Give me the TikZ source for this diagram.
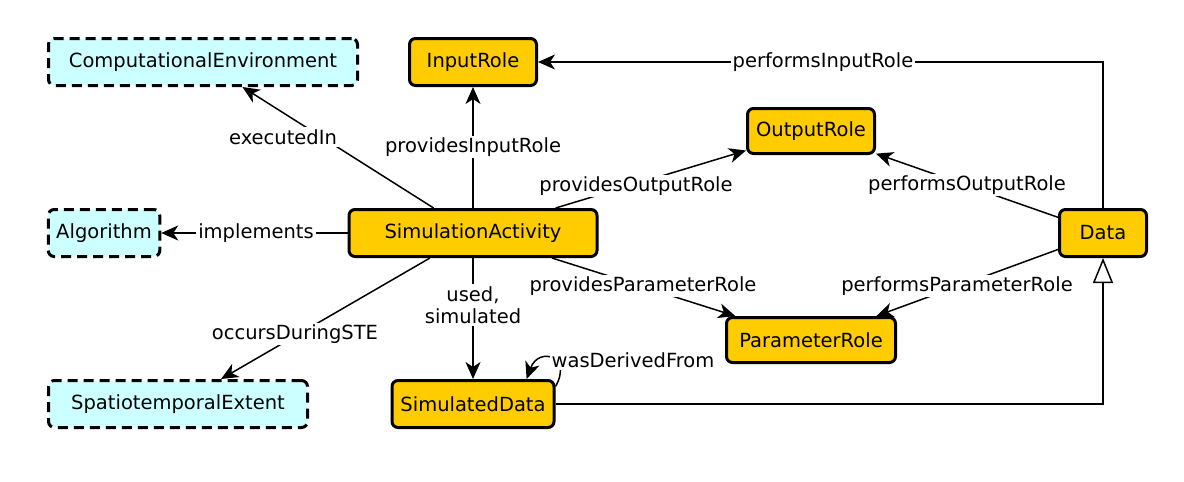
\documentclass[tikz,border=0pt]{standalone}
\usepackage{fontspec}
\setmainfont{DejaVu Sans}
\usetikzlibrary{arrows.meta}
\definecolor{rolegold}{RGB}{255,204,0}
\definecolor{extcyan}{RGB}{204,255,255}
\tikzset{
    cls/.style={draw, line width=3pt, rounded corners=6pt, fill=rolegold,
        minimum height=47pt, inner xsep=8pt, font=\fontsize{19.5}{22}\selectfont},
    ext/.style={cls, fill=extcyan, dash pattern=on 10pt off 6pt},
    rel/.style={line width=1.5pt, -{Stealth[length=17pt, width=15pt, inset=5pt]}},
    lbl/.style={fill=white, inner sep=2pt, align=center, font=\fontsize{19.5}{22}\selectfont},
}
\begin{document}
\begin{tikzpicture}[x=1pt, y=-1pt]
    \useasboundingbox (0,0) rectangle (1184,482);

    % Các lớp
    \node[ext, minimum width=309pt] (env) at (203,62) {ComputationalEnvironment};
    \node[cls, minimum width=127pt] (input) at (473,62) {InputRole};
    \node[cls, minimum width=127pt, minimum height=45pt] (output) at (811,131) {OutputRole};
    \node[ext, minimum width=111pt] (algo) at (104,233) {Algorithm};
    \node[cls, minimum width=248pt] (act) at (473,233) {SimulationActivity};
    \node[cls, minimum width=87pt] (data) at (1103,233) {Data};
    \node[cls, minimum width=169pt, minimum height=45pt] (param) at (811,340) {ParameterRole};
    \node[ext, minimum width=259pt] (ste) at (178,404) {SpatiotemporalExtent};
    \node[cls, minimum width=162pt] (simdata) at (473,404) {SimulatedData};

    % Quan hệ của SimulationActivity
    \draw[rel] (act) -- (env);
    \draw[rel] (act) -- (input);
    \draw[rel] (act) -- (output);
    \draw[rel] (act) -- (algo);
    \draw[rel] (act) -- (ste);
    \draw[rel] (act) -- (simdata);
    \draw[rel] (act) -- (param);

    % Quan hệ của Data
    \draw[rel] (data.north) |- (input);
    \draw[rel] (data) -- (output);
    \draw[rel] (data) -- (param);
    \draw[rel] (simdata.12) to[out=60, in=70, looseness=3] (simdata.25);

    % Kế thừa (tam giác rỗng)
    \draw[line width=1.5pt, -{Triangle[open, length=25pt, width=20pt]}] (simdata) -| (data);

    % Nhãn các quan hệ
    \node[lbl] at (283,137) {executedIn};
    \node[lbl] at (473,147) {providesInputRole};
    \node[lbl] at (636,186) {providesOutputRole};
    \node[lbl] at (256,233) {implements};
    \node[lbl] at (295,334) {occursDuringSTE};
    \node[lbl] at (473,305) {used,\\simulated};
    \node[lbl] at (643,286) {providesParameterRole};
    \node[lbl] at (823,62) {performsInputRole};
    \node[lbl] at (967,185) {performsOutputRole};
    \node[lbl] at (957,286) {performsParameterRole};
    \node[lbl] at (633,360) {wasDerivedFrom};

\end{tikzpicture}
\end{document}
